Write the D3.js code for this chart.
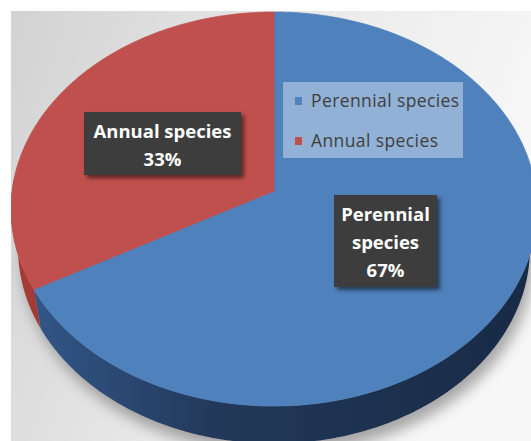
<!DOCTYPE html>
<html>
<head>
<meta charset="utf-8">
<script src="https://cdn.jsdelivr.net/npm/d3@7"></script>
<style>
body { margin: 0; background: #fff; }
svg { display: block; }
</style>
</head>
<body>
<div id="chart-area"></div>
<script>
let width = 531, height = 441;

// chart data
let categories = ["Perennial species", "Annual species"];
let shares = [67, 33];
let labelLines = [["Perennial", "species", "67%"], ["Annual species", "33%"]];

// colours: top face and side shading (left, middle, right)
let topColors = ["#4f81bd", "#c0504d"];
let sideStops = [
    ["#345a8d", "#22395b", "#182a44"],
    ["#a83b37", "#8a302d", "#6e2523"]
];

// 3d view settings
let tilt = 50 * Math.PI / 180, camDist = 7, thick = 0.25;

let svg = d3.select("#chart-area")
    .append("svg")
    .attr("width", width)
    .attr("height", height);

let defs = svg.append("defs");

// background gradient of the plot panel
let bg = defs.append("linearGradient").attr("id", "bg")
    .attr("x1", 0).attr("y1", 0).attr("x2", 1).attr("y2", 0.3);
bg.append("stop").attr("offset", "0%").attr("stop-color", "#d2d2d2");
bg.append("stop").attr("offset", "60%").attr("stop-color", "#ececec");
bg.append("stop").attr("offset", "100%").attr("stop-color", "#f7f7f7");

defs.append("filter").attr("id", "blur")
    .attr("x", "-20%").attr("y", "-20%").attr("width", "140%").attr("height", "140%")
    .append("feGaussianBlur").attr("stdDeviation", 7);

defs.append("filter").attr("id", "boxshadow")
    .attr("x", "-20%").attr("y", "-20%").attr("width", "140%").attr("height", "140%")
    .append("feDropShadow")
    .attr("dx", 3).attr("dy", 3).attr("stdDeviation", 2)
    .attr("flood-color", "#000").attr("flood-opacity", 0.55);

defs.append("clipPath").attr("id", "panel")
    .append("rect").attr("x", 11).attr("y", 11).attr("width", width - 11).attr("height", height - 11);

sideStops.forEach(function(s, i) {
    let lg = defs.append("linearGradient").attr("id", "side" + i)
        .attr("gradientUnits", "userSpaceOnUse")
        .attr("x1", 11).attr("y1", 0).attr("x2", 537).attr("y2", 0);
    lg.append("stop").attr("offset", "0%").attr("stop-color", s[0]);
    lg.append("stop").attr("offset", "38%").attr("stop-color", s[1]);
    lg.append("stop").attr("offset", "100%").attr("stop-color", s[2]);
});

svg.append("rect")
    .attr("x", 11).attr("y", 11)
    .attr("width", width - 11).attr("height", height - 11)
    .attr("fill", "url(#bg)");

// perspective projection of a point on the pie (theta from the back, clockwise)
function raw(theta, y, r) {
    let X = r * Math.sin(theta), Z = r * Math.cos(theta);
    let d = camDist + Z * Math.cos(tilt) - y * Math.sin(tilt);
    let v = y * Math.cos(tilt) + Z * Math.sin(tilt);
    return [X / d, -v / d, d];
}

let rim = d3.range(0, 361).map(a => raw(a * Math.PI / 180, 0, 1));
let xScale = d3.scaleLinear().domain(d3.extent(rim, p => p[0])).range([11, 537]);
let yScale = d3.scaleLinear().domain(d3.extent(rim, p => p[1])).range([12, 406]);

function proj(theta, y, r) {
    let p = raw(theta, y, r);
    return [xScale(p[0]), yScale(p[1])];
}

let pie = d3.pie().sort(null).value(d => d);
let arcs = pie(shares);

function rimPoints(a0, a1, y) {
    let n = Math.max(2, Math.ceil((a1 - a0) * 90));
    return d3.range(n + 1).map(j => proj(a0 + (a1 - a0) * j / n, y, 1));
}

let g = svg.append("g").attr("clip-path", "url(#panel)");

// soft shadow under the pie
let bottomRim = d3.range(0, 361, 2).map(a => proj(a * Math.PI / 180, -thick, 1));
g.append("path")
    .attr("d", d3.line()(bottomRim) + "Z")
    .attr("transform", "translate(4,10)")
    .attr("fill", "#6f6f6f")
    .attr("opacity", 0.6)
    .attr("filter", "url(#blur)");

// side walls, only the front half faces the viewer
let frontFrom = Math.PI / 2 - 0.08, frontTo = 3 * Math.PI / 2 + 0.08;
g.selectAll("path.wall")
    .data(arcs.filter(d => d.endAngle > frontFrom && d.startAngle < frontTo))
    .enter()
    .append("path")
    .attr("class", "wall")
    .attr("d", function(d) {
        let a0 = Math.max(d.startAngle, frontFrom), a1 = Math.min(d.endAngle, frontTo);
        return d3.line()(rimPoints(a0, a1, 0).concat(rimPoints(a0, a1, -thick).reverse())) + "Z";
    })
    .attr("fill", d => "url(#side" + d.index + ")");

// top faces
g.selectAll("path.slice")
    .data(arcs)
    .enter()
    .append("path")
    .attr("class", "slice")
    .attr("d", d => d3.line()([proj(0, 0, 0)].concat(rimPoints(d.startAngle, d.endAngle, 0))) + "Z")
    .attr("fill", (d, i) => topColors[i])
    .attr("stroke", (d, i) => topColors[i])
    .attr("stroke-width", 0.8)
    .attr("stroke-linejoin", "round");

// data labels
let labelBoxes = [
    {x: 334, y: 195, w: 103, h: 92, cx: 385.5, base: 221},
    {x: 84, y: 112, w: 157, h: 63, cx: 162.5, base: 138}
];

let labels = svg.append("g").selectAll("g")
    .data(arcs)
    .enter()
    .append("g");

labels.append("rect")
    .attr("x", (d, i) => labelBoxes[i].x)
    .attr("y", (d, i) => labelBoxes[i].y)
    .attr("width", (d, i) => labelBoxes[i].w)
    .attr("height", (d, i) => labelBoxes[i].h)
    .attr("fill", "#3e3e3e")
    .attr("filter", "url(#boxshadow)");

labels.each(function(d, i) {
    let box = labelBoxes[i];
    d3.select(this).selectAll("text")
        .data(labelLines[i])
        .enter()
        .append("text")
        .attr("x", box.cx)
        .attr("y", (t, j) => box.base + j * 28)
        .attr("text-anchor", "middle")
        .attr("font-family", "'Open Sans', sans-serif")
        .attr("font-weight", "bold")
        .attr("font-size", "18.5px")
        .attr("fill", "#ffffff")
        .text(t => t);
});

// legend
let legend = svg.append("g").attr("class", "legend");
legend.append("rect")
    .attr("x", 283).attr("y", 82)
    .attr("width", 180).attr("height", 76)
    .attr("fill", "#ffffff")
    .attr("opacity", 0.38);

let items = legend.selectAll("g.item")
    .data(categories)
    .enter()
    .append("g")
    .attr("class", "item")
    .attr("transform", (d, i) => "translate(295," + (97 + i * 40) + ")");

items.append("rect")
    .attr("width", 7).attr("height", 8)
    .attr("fill", (d, i) => topColors[i]);

items.append("text")
    .attr("x", 16)
    .attr("y", 10)
    .attr("font-family", "'Open Sans', sans-serif")
    .attr("font-size", "17.5px")
    .attr("letter-spacing", "0.4px")
    .attr("fill", "#3f3f3f")
    .text(d => d);
</script>
</body>
</html>
